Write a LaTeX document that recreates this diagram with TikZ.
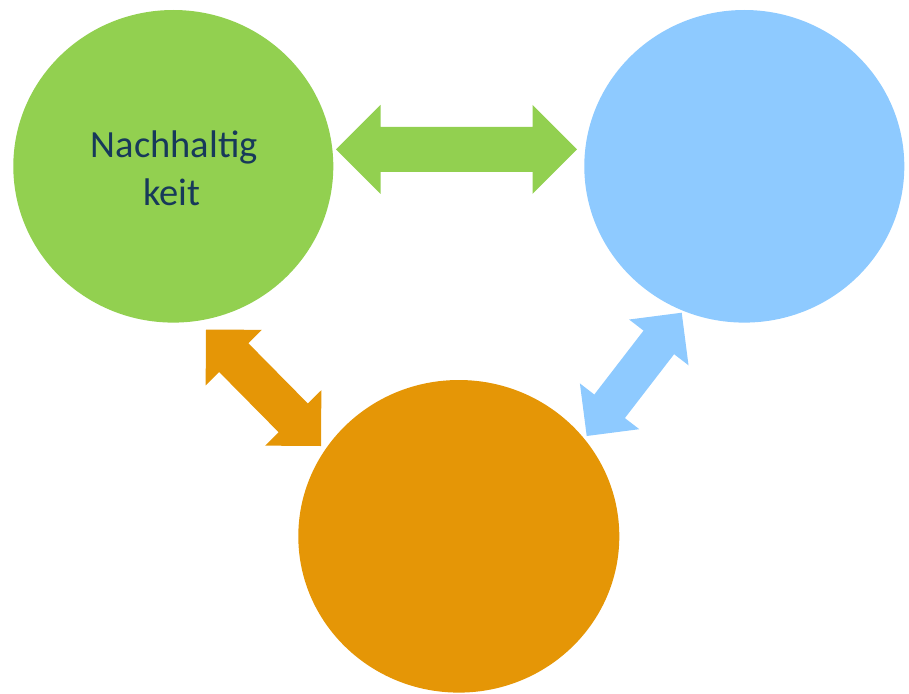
\documentclass[tikz,border=0pt]{standalone}
\usepackage{fontspec}
\setmainfont{Carlito}
\usetikzlibrary{calc}

\definecolor{ngreen}{HTML}{92D050}
\definecolor{nblue}{HTML}{8ECAFF}
\definecolor{norange}{HTML}{E59606}
\definecolor{ntext}{HTML}{17395A}

% Block double arrow between two named tip coordinates:
% #1,#2 tips, #3 head length (= head half width, 90 degree tips),
% #4 shaft half width, #5 fill colour
\newcommand\dblockarrow[5]{%
  \coordinate (ha) at ($(#1)!#3!(#2)$);
  \coordinate (hb) at ($(#2)!#3!(#1)$);
  \fill[#5] (#1)
    -- ($(ha)!#3!90:(#2)$) -- ($(ha)!#4!90:(#2)$)
    -- ($(hb)!#4!-90:(#1)$) -- ($(hb)!#3!-90:(#1)$)
    -- (#2)
    -- ($(hb)!#3!90:(#1)$) -- ($(hb)!#4!90:(#1)$)
    -- ($(ha)!#4!-90:(#2)$) -- ($(ha)!#3!-90:(#2)$)
    -- cycle;
}

\tikzset{
  label text/.style={anchor=base, text=ntext, inner sep=0pt,
    font=\fontsize{38.5}{47.7}\selectfont},
}

\begin{document}
\begin{tikzpicture}[x=1pt,y=-1pt]
  \useasboundingbox (0,0) rectangle (909,693);

  % three discs
  \coordinate (green) at (173.3,166.3);
  \coordinate (blue) at (744.3,166.3);
  \coordinate (orange) at (458.8,536.3);
  \fill[ngreen]  (green)  ellipse [x radius=160, y radius=156.3];
  \fill[nblue]   (blue)   ellipse [x radius=160, y radius=156.3];
  \fill[norange] (orange) ellipse [x radius=160.5, y radius=156.3];

  % arrow tips
  \coordinate (gA) at (336,149.3);
  \coordinate (gB) at (577,149.3);
  \coordinate (oA) at (206,329.5);
  \coordinate (oB) at (321,446);
  \coordinate (bA) at (586.7,436);
  \coordinate (bB) at (681.7,312.7);

  \dblockarrow{gA}{gB}{44.5pt}{22.5pt}{ngreen}
  \dblockarrow{oA}{oB}{39.5pt}{20.5pt}{norange}
  \dblockarrow{bA}{bB}{37.5pt}{19.3pt}{nblue}

  \node[label text] (t1) at (174.2,157.3) {Nachhaltig};
  \node[label text] (t2) at (171.7,205) {keit};
\end{tikzpicture}
\end{document}
